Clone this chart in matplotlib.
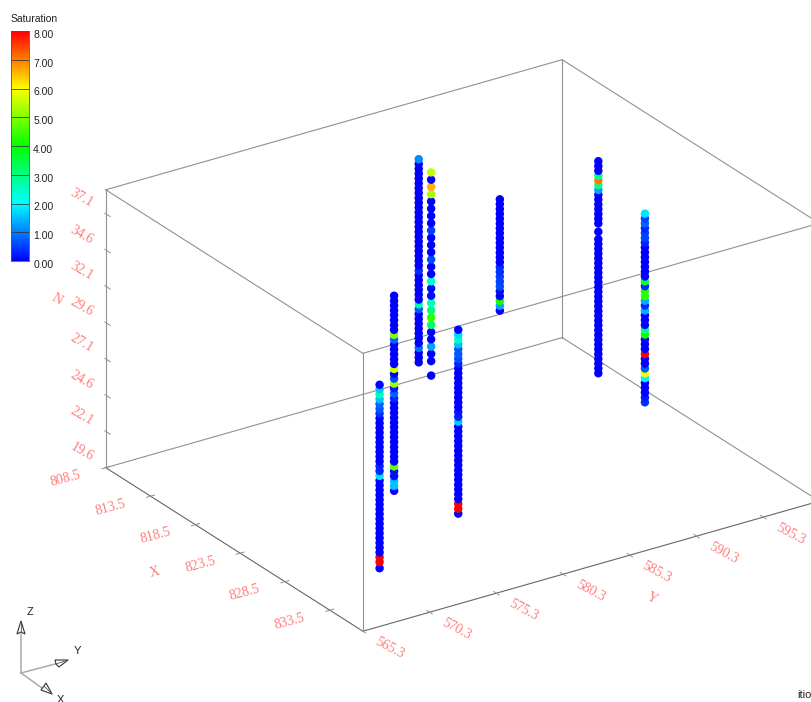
import matplotlib
matplotlib.use('Agg')
import matplotlib.pyplot as plt
import numpy as np
from matplotlib.colors import LinearSegmentedColormap
from matplotlib.transforms import ScaledTranslation
from mpl_toolkits.mplot3d import proj3d

plt.rcParams['font.family'] = ['Liberation Sans', 'DejaVu Sans']

# axis ranges of the box
x_range = [808.5, 837.2]
y_range = [565.3, 599.5]
z_range = [19.6, 38.75]

x_ticks = [808.5, 813.5, 818.5, 823.5, 828.5, 833.5]
y_ticks = [565.3, 570.3, 575.3, 580.3, 585.3, 590.3, 595.3]
z_ticks = [19.6, 22.1, 24.6, 27.1, 29.6, 32.1, 34.6, 37.1]

legend_ticks = [0, 1, 2, 3, 4, 5, 6, 7, 8]

# wells, top to bottom
well_a_xy = [830.14, 571.29]
well_a_z = [32.24, 31.91, 31.58, 31.25, 30.92, 30.59, 30.26, 29.93, 29.60, 29.27,
            28.94, 28.61, 28.28, 27.95, 27.62, 27.29, 26.96, 26.63, 26.30, 25.97,
            25.64, 25.31, 24.98, 24.65, 24.32, 23.99, 23.66, 23.33, 23.00, 22.67,
            22.34, 22.01, 21.68, 21.35, 21.02, 20.69, 20.36, 20.03, 19.60]
well_a_sat = [0, 1.6, 2.6, 1.5, .8, .7, .4, 0, 0, 0,
              0, 0, 0, 0, 0, 0, 0, .3, .3, 1.8,
              0, 0, 0, 0, 0, 0, 0, 0, 0, 0,
              0, 0, 0, 0, 0, 0, 8, 8, 0]

well_b_xy = [823.0, 577.17]
well_b_z = [34.03, 33.69, 33.36, 33.02, 32.69, 32.35, 32.01, 31.68, 31.34, 31.01,
            30.67, 30.33, 30.00, 29.66, 29.33, 28.99, 28.65, 28.32, 27.98, 27.65,
            27.31, 26.97, 26.64, 26.30, 25.97, 25.63, 25.29, 24.96, 24.62, 24.29,
            23.95, 23.61, 23.28, 22.94, 22.61, 22.27, 21.93, 21.60, 21.26, 20.93, 20.59]
well_b_sat = [0, 0, 0, 0, 0, 0, 0, 0, 5.0, .8,
              0, 0, 0, 0, 0, 5.6, 0, .6, 5.3, .2,
              .8, .3, 0, 0, 0, 0, 0, 0, 0, 0,
              0, 0, 0, 0, 0, 4.7, .1, .1, 1.5, 1.5, 0]

well_c_xy = [812.88, 585.81]
well_c_z = [37.2, 36.87, 36.53, 36.2, 35.87, 35.53, 35.2, 34.87, 34.53, 34.2,
            33.87, 33.53, 33.2, 32.87, 32.53, 32.2, 31.87, 31.53, 31.2, 30.87,
            30.53, 30.2, 29.87, 29.53, 29.2, 28.87, 28.53, 28.2, 27.87, 27.53,
            27.2, 26.87, 26.53, 26.2, 25.87, 25.53, 25.2, 24.87, 24.53, 24.2,
            23.87, 23.53, 23.2]
well_c_sat = [1.1, 0, 0, 0, 0, 0, 0, 0, 0, 0,
              0, 0, 0, 0, 0, 0, 0, 0, 0, 0,
              0, 0, 0, .4, 0, 0, 0, 0, 0, 0,
              2.7, .7, 0, 0, 0, 0, 0, 0, 0, .9,
              0, 0, 0]

well_d_xy = [814.31, 585.78]
well_d_z = [36.86, 36.36, 35.86, 35.36, 34.86, 34.36, 33.86, 33.36, 32.86, 32.36,
            31.86, 31.36, 30.86, 30.36, 29.86, 29.36, 28.86, 28.36, 27.86, 27.36,
            26.86, 26.36, 25.86, 25.36, 24.86, 24.36, 23.86, 22.86]
well_d_sat = [5.5, 0, 6.6, 5.3, 0, 0, 0, 0, .5, 0,
              0, 0, .6, 0, 0, 2.4, .1, .1, 2.5, 3,
              4.4, 3.2, 0, 0, 1.3, 0, 0, 0]

well_e_xy = [828.0, 578.62]
well_e_z = [33.27, 32.94, 32.6, 32.27, 31.94, 31.6, 31.27, 30.94, 30.6, 30.27,
            29.94, 29.6, 29.27, 28.94, 28.6, 28.27, 27.94, 27.6, 27.27, 26.94,
            26.6, 26.27, 25.94, 25.6, 25.27, 24.94, 24.6, 24.27, 23.94, 23.6,
            23.27, 22.94, 22.6, 22.27, 21.94, 21.6, 21.27, 20.94, 20.6]
well_e_sat = [0, 1.7, 2.5, 1.5, .7, .7, .6, .3, 0, 0,
              0, 0, 0, 0, 0, 0, 0, .2, .3, 1.6,
              0, 0, 0, 0, 0, 0, 0, 0, 0, 0,
              0, 0, 0, 0, 0, 0, 8, 8, 0]

well_f_xy = [812.98, 591.82]
well_f_z = [32.9, 32.57, 32.23, 31.9, 31.57, 31.23, 30.9, 30.57, 30.23, 29.9,
            29.57, 29.23, 28.9, 28.57, 28.23, 27.9, 27.57, 27.23, 26.9, 26.57,
            26.23, 25.9, 25.57, 25.23]
well_f_sat = [0, 0, 0, 0, 0, 0, 0, 0, 0, 0,
              0, 0, 0, 0, .4, .4, .5, .5, .6, .1,
              0, 4.2, 1.3, 0]

well_g_xy = [819.52, 594.81]
well_g_z = [37.31, 36.98, 36.65, 36.32, 35.99, 35.66, 35.33, 35.0, 34.67, 34.34,
            34.01, 33.68, 33.35, 33.02, 32.45, 31.94, 31.61, 31.28, 30.95, 30.62,
            30.29, 29.96, 29.63, 29.3, 28.97, 28.64, 28.31, 27.98, 27.65, 27.32,
            26.99, 26.66, 26.33, 26.0, 25.67, 25.34, 25.01, 24.68, 24.35, 24.02,
            23.69, 23.36, 23.03, 22.7]
well_g_sat = [0, 0, 0, 3, 7, 2.9, 1.3, 0, 0, 0,
              0, 0, 0, 0, 0, 0, 0, 0, 0, 0,
              0, 0, 0, 0, 0, 0, 0, 0, 0, 0,
              0, 0, 0, 0, 0, 0, 0, 0, 0, 0,
              0, 0, 0, 0]

well_h_xy = [824.72, 594.81]
well_h_z = [35.74, 35.41, 35.07, 34.74, 34.41, 34.07, 33.74, 33.41, 33.07, 32.74,
            32.41, 32.07, 31.74, 31.41, 31.07, 30.74, 30.41, 30.07, 29.74, 29.41,
            29.07, 28.74, 28.41, 28.07, 27.74, 27.41, 27.07, 26.74, 26.41, 26.07,
            25.74, 25.41, 25.07, 24.74, 24.41, 24.07, 23.74, 23.41, 23.07, 22.74]
well_h_sat = [1.8, .5, .8, .3, .5, .5, .3, 0, 0, 0,
              0, 0, 0, 0, 3.5, .3, 4.3, 4.3, 1.4, .3,
              1.4, 0, 0, 0, 3, 4.1, 0, 0, 0, 8,
              0, 0, .7, 5.9, 1.9, 0, 0, 0, .2, .4]

wells = [(well_d_xy, well_d_z, well_d_sat),
         (well_c_xy, well_c_z, well_c_sat),
         (well_f_xy, well_f_z, well_f_sat),
         (well_g_xy, well_g_z, well_g_sat),
         (well_h_xy, well_h_z, well_h_sat),
         (well_b_xy, well_b_z, well_b_sat),
         (well_e_xy, well_e_z, well_e_sat),
         (well_a_xy, well_a_z, well_a_sat)]

W, H = 812, 702
RED = '#ff7c7c'
EDGE = '#919191'
LABEL_FONT = ['Liberation Serif', 'DejaVu Sans']

cmap = LinearSegmentedColormap.from_list(
    'sat', ['#0000ff', '#00ffff', '#00ff00', '#ffff00', '#ff0000'])

fig = plt.figure(figsize=(W / 100, H / 100), dpi=100, facecolor='white')

# 3d box, parallel projection
ax = fig.add_axes([73.3 / W, -32.7 / H, 758 / W, 758 / H], projection='3d',
                  computed_zorder=False)
ax.set_proj_type('ortho')
ax.view_init(elev=25.2, azim=-33.8)
ax.set_box_aspect((462, 549, 307))
ax.set_xlim(x_range)
ax.set_ylim(y_range)
ax.set_zlim(z_range)
ax.set_axis_off()
ax.patch.set_alpha(0)

x0, x1 = x_range
y0, y1 = y_range
z0, z1 = z_range


def box_label(x, y, z, s, rot):
    # projected position, then a plain text turned along the box direction
    px, py, _ = proj3d.proj_transform(x, y, z, ax.get_proj())
    ax.text2D(px, py, s, transform=ax.transData, color=RED, fontsize=10, family=LABEL_FONT,
              rotation=rot, rotation_mode='anchor', ha='center', va='center')


# the twelve box edges
for y in (y0, y1):
    for z in (z0, z1):
        dark = (y == y0 and z == z0)
        ax.plot([x0, x1], [y, y], [z, z], color='#666666' if dark else EDGE, lw=0.8, zorder=1)
for x in (x0, x1):
    for z in (z0, z1):
        dark = (x == x1 and z == z0)
        ax.plot([x, x], [y0, y1], [z, z], color='#666666' if dark else EDGE, lw=0.8, zorder=1)
for x in (x0, x1):
    for y in (y0, y1):
        ax.plot([x, x], [y, y], [z0, z1], color=EDGE, lw=0.8, zorder=1)

# ticks and red labels
for t in x_ticks:
    ax.plot([t, t], [y0 - 0.3, y0 + 0.3], [z0, z0], color=EDGE, lw=0.7, zorder=1)
    box_label(t, y0 - 3, z0, f'{t:.1f}', 15)
for t in y_ticks:
    ax.plot([x1 - 0.3, x1 + 0.3], [t, t], [z0, z0], color=EDGE, lw=0.7, zorder=1)
    box_label(x1 + 3, t, z0, f'{t:.1f}', -28)
for t in z_ticks:
    ax.plot([x0 - 0.1, x0 + 0.5], [y0, y0], [t, t], color=EDGE, lw=0.7, zorder=1)
    box_label(x0 - 2.7, y0, t, f'{t:.1f}', -30)

box_label(822.9, y0 - 6, z0, 'X', 15)
box_label(x1 + 6, 582.9, z0, 'Y', -28)
box_label(x0 - 5.5, y0, 29.05, 'N', -30)

# saturation samples
for n, (xy, z, sat) in enumerate(wells):
    ax.scatter([xy[0]] * len(z), [xy[1]] * len(z), z, c=sat, cmap=cmap, vmin=0, vmax=8,
               s=37, linewidths=0, depthshade=False, zorder=5 + n)

# legend bar
cax = fig.add_axes([11 / W, 1 - 261 / H, 18 / W, 230 / H])
gradient = np.linspace(0, 8, 256).reshape(-1, 1)
cax.imshow(gradient, origin='lower', aspect='auto', cmap=cmap, extent=[0, 1, 0, 8], vmin=0, vmax=8)
cax.set_xticks([])
cax.set_yticks(legend_ticks)
cax.set_yticklabels([f'{v:.2f}' for v in legend_ticks], fontsize=7.5, color='#222222')
cax.yaxis.tick_right()
cax.tick_params(axis='y', length=0, pad=3)
for v in legend_ticks:
    cax.axhline(v, color='#333333', lw=0.7, alpha=0.8)
for s in cax.spines.values():
    s.set_color('#555555')
    s.set_linewidth(0.6)
shift = ScaledTranslation(0, -2 / 72, fig.dpi_scale_trans)
for lab in cax.get_yticklabels():
    lab.set_transform(lab.get_transform() + shift)
fig.text(11 / W, 1 - 19 / H, 'Saturation', fontsize=7.5, color='#222222', va='center')

# overlay in picture pixels for the orientation triad
over = fig.add_axes([0, 0, 1, 1])
over.set_xlim(0, W)
over.set_ylim(H, 0)
over.axis('off')
over.patch.set_alpha(0)

origin = (21, 673)
over.plot([origin[0], 21], [origin[1], 634], color='#aaaaaa', lw=1.1)
over.plot([origin[0], 55], [origin[1], 664], color='#aaaaaa', lw=1.1)
over.plot([origin[0], 42], [origin[1], 688], color='#aaaaaa', lw=1.1)

cones = [[(21, 621), (17, 634), (21, 632), (25, 634), (21, 621)],
         [(68, 660), (55, 660), (56, 664), (59, 667), (68, 660)],
         [(52, 694), (41, 690), (44, 686), (46, 683), (52, 694)]]
for cone in cones:
    px = [p[0] for p in cone]
    py = [p[1] for p in cone]
    over.fill(px, py, facecolor='white', edgecolor='#333333', lw=0.8, zorder=3)
    over.plot([px[0], px[2]], [py[0], py[2]], color='#555555', lw=0.6, zorder=4)

over.text(30, 612, 'Z', fontsize=8, color='#222222', ha='center', va='center')
over.text(77, 651, 'Y', fontsize=8, color='#222222', ha='center', va='center')
over.text(60, 700, 'X', fontsize=8, color='#222222', ha='center', va='center')

over.text(797, 695, 'ition', fontsize=8, color='#222222', ha='left', va='center')

fig.savefig('out.png', dpi=100, facecolor='white')
